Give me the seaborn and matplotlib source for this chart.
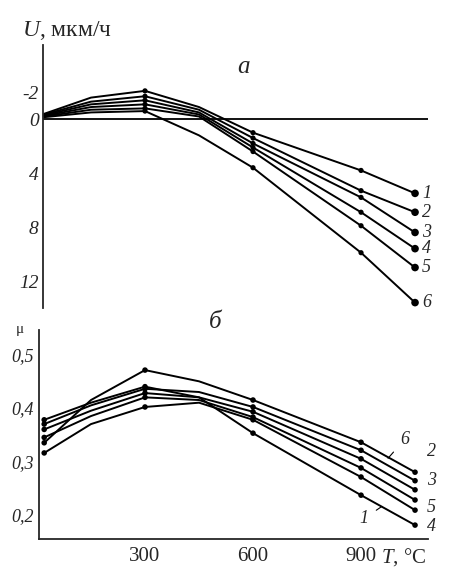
# Рис.: скорость изнашивания U и коэффициент трения μ в зависимости от T
import numpy as np
import pandas as pd
import matplotlib
matplotlib.use("Agg")
import matplotlib.pyplot as plt
import seaborn as sns

# --- data ---
curves = ["1", "2", "3", "4", "5", "6"]
T = [20, 150, 300, 450, 600, 900, 1050]
marked_T = [300, 600, 900, 1050]
marked_T_mu = [20, 300, 600, 900, 1050]

# (a) U, мкм/ч  (axis inverted: negative upward)
U_1 = [-0.40, -1.6, -2.1, -0.9, 1.0, 3.8, 5.5]
U_2 = [-0.35, -1.3, -1.7, -0.7, 1.4, 5.3, 6.9]
U_3 = [-0.30, -1.1, -1.4, -0.5, 1.8, 5.8, 8.4]
U_4 = [-0.25, -0.9, -1.1, -0.35, 2.1, 6.9, 9.6]
U_5 = [-0.20, -0.7, -0.8, -0.2, 2.4, 7.9, 11.0]
U_6 = [-0.15, -0.5, -0.6, 1.2, 3.6, 9.9, 13.6]

# (б) μ
mu_1 = [0.378, 0.41, 0.440, 0.420, 0.353, 0.237, 0.181]
mu_2 = [0.370, 0.405, 0.436, 0.430, 0.402, 0.321, 0.264]
mu_3 = [0.360, 0.395, 0.428, 0.420, 0.393, 0.305, 0.247]
mu_4 = [0.316, 0.37, 0.402, 0.410, 0.378, 0.271, 0.209]
mu_5 = [0.345, 0.385, 0.420, 0.415, 0.383, 0.288, 0.228]
mu_6 = [0.335, 0.415, 0.471, 0.450, 0.415, 0.336, 0.280]

U_ticks = [-2, 0, 4, 8, 12]
U_ticklabels = ["-2", "0", "4", "8", "12"]
mu_ticks = [0.2, 0.3, 0.4, 0.5]
mu_ticklabels = ["0,2", "0,3", "0,4", "0,5"]
T_ticks = [300, 600, 900]

U_all = [U_1, U_2, U_3, U_4, U_5, U_6]
mu_all = [mu_1, mu_2, mu_3, mu_4, mu_5, mu_6]
rows = []
for c, u, m in zip(curves, U_all, mu_all):
    for t, uu, mm in zip(T, u, m):
        rows.append({"curve": c, "T": t, "U": uu, "mu": mm})
df = pd.DataFrame(rows)
df_m = df[df["T"].isin(marked_T)]
df_mu_m = df[df["T"].isin(marked_T_mu)]
df_end = df[df["T"] == T[-1]]

# --- style ---
sns.set_style("white")
plt.rcParams["font.family"] = ["Liberation Serif", "DejaVu Serif"]
plt.rcParams["mathtext.fontset"] = "custom"
plt.rcParams["mathtext.it"] = "Liberation Serif:italic"
plt.rcParams["mathtext.rm"] = "Liberation Serif"

black = ["black"] * 6
fig = plt.figure(figsize=(4.5, 5.73), dpi=100)

# ---------- panel a ----------
ax1 = fig.add_axes([43 / 450, 1 - 308 / 573, 385 / 450, 263 / 573])
sns.lineplot(data=df, x="T", y="U", hue="curve", palette=black, estimator=None,
             sort=False, lw=1.4, legend=False, ax=ax1)
sns.scatterplot(data=df_m, x="T", y="U", hue="curve", palette=black, s=14,
                linewidth=0, legend=False, ax=ax1)
sns.scatterplot(data=df_end, x="T", y="U", hue="curve", palette=black, s=30,
                linewidth=0, legend=False, ax=ax1)
ax1.axhline(0, color="black", lw=1.3)
ax1.set_xlim(16.7, 1086)
ax1.set_ylim(14.0, -5.5)
ax1.set_yticks(U_ticks)
ax1.set_yticklabels(U_ticklabels, fontstyle="italic", fontsize=14)
ax1.set_yticks([2, 10], minor=True)
ax1.set_xticks([])
ax1.set_xlabel("")
ax1.set_ylabel("")
for s in ["top", "right", "bottom"]:
    ax1.spines[s].set_visible(False)
ax1.spines["left"].set_linewidth(1.3)
ax1.tick_params(axis="y", which="both", direction="in", length=4, width=1, pad=3)
for c in curves:
    yv = df_end.loc[df_end["curve"] == c, "U"].iloc[0]
    ax1.annotate(c, (T[-1], yv), xytext=(5, 0), textcoords="offset points",
                 ha="left", va="center", fontsize=13, fontstyle="italic",
                 annotation_clip=False)

# ---------- panel б ----------
ax2 = fig.add_axes([39 / 450, 34 / 573, 389 / 450, 209 / 573])
sns.lineplot(data=df, x="T", y="mu", hue="curve", palette=black, estimator=None,
             sort=False, lw=1.4, legend=False, ax=ax2)
sns.scatterplot(data=df_mu_m, x="T", y="mu", hue="curve", palette=black, s=16,
                linewidth=0, legend=False, ax=ax2)
ax2.set_xlim(5.6, 1086)
ax2.set_ylim(0.155, 0.546)
ax2.set_xticks(T_ticks)
ax2.set_xticklabels([str(t) for t in T_ticks], fontsize=15)
ax2.set_yticks(mu_ticks)
ax2.set_yticklabels(mu_ticklabels, fontstyle="italic", fontsize=13)
ax2.set_xlabel("")
ax2.set_ylabel("")
for s in ["top", "right"]:
    ax2.spines[s].set_visible(False)
for s in ["left", "bottom"]:
    ax2.spines[s].set_linewidth(1.3)
ax2.tick_params(axis="both", direction="in", length=4, width=1)
ax2.tick_params(axis="x", pad=6)

# curve labels of panel б
lab_kw = dict(fontsize=13, fontstyle="italic", ha="center", va="center",
              annotation_clip=False)
ax2.annotate("6", xy=(975, 0.306), xytext=(1022, 0.342),
             arrowprops=dict(arrowstyle="-", lw=0.8, color="black",
                             shrinkA=4, shrinkB=0), **lab_kw)
ax2.annotate("1", xy=(958, 0.216), xytext=(908, 0.193),
             arrowprops=dict(arrowstyle="-", lw=0.8, color="black",
                             shrinkA=4, shrinkB=0), **lab_kw)
for lab, yv in zip(["2", "3", "5", "4"], [0.318, 0.265, 0.213, 0.178]):
    ax2.annotate(lab, (1095, yv), **lab_kw)

# titles and axis captions
fig.text(22 / 450, 1 - 30 / 573, "$U$, мкм/ч", fontsize=17, va="center", ha="left")
fig.text(243 / 450, 1 - 67 / 573, "а", fontsize=18, fontstyle="italic",
         ha="center", va="center")
fig.text(215 / 450, 1 - 322 / 573, "б", fontsize=18, fontstyle="italic",
         ha="center", va="center")
fig.text(20 / 450, 1 - 330 / 573, "μ", fontsize=11, ha="center", va="center")
fig.text(381 / 450, 1 - 557 / 573, "$T$, °C", fontsize=15, ha="left", va="center")

plt.savefig("out.png", dpi=100)
